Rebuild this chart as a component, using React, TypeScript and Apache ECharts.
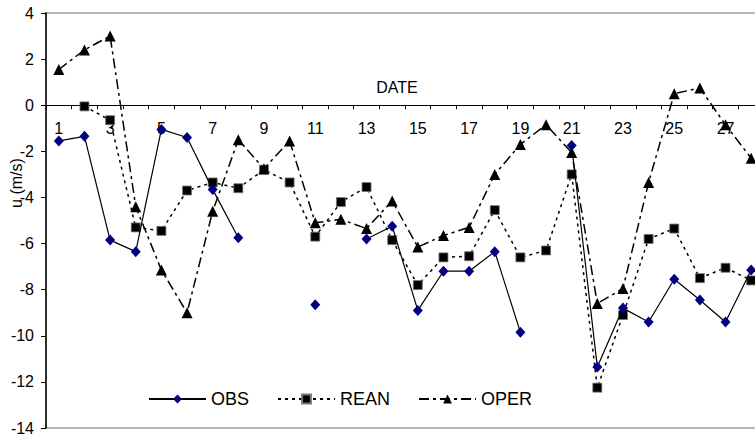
import React, { useEffect, useRef } from "react";
import * as echarts from "echarts";

const days = Array.from({ length: 28 }, (_, i) => String(i + 1));
const obs = [-1.55, -1.35, -5.85, -6.35, -1.05, -1.4, -3.65, -5.75, null, null, -8.65, null, -5.8, -5.25, -8.9, -7.2, -7.2, -6.35, -9.85, null, -1.75, -11.35, -8.8, -9.4, -7.55, -8.45, -9.4, -7.15];
const rean = [null, -0.05, -0.65, -5.3, -5.45, -3.7, -3.35, -3.6, -2.8, -3.35, -5.7, -4.2, -3.55, -5.85, -7.8, -6.6, -6.55, -4.55, -6.6, -6.3, -3.0, -12.25, -9.1, -5.8, -5.35, -7.5, -7.05, -7.6];
const oper = [1.55, 2.4, 3.0, -4.4, -7.15, -9.0, -4.6, -1.5, -2.75, -1.55, -5.1, -4.95, -5.35, -4.15, -6.15, -5.65, -5.3, -3.0, -1.7, -0.85, -2.05, -8.6, -7.95, -3.35, 0.5, 0.75, -0.85, -2.3];

const FONT = "'Liberation Sans', Arial, sans-serif";
const Y_MIN = -14;
const Y_MAX = 4;

export default function App() {
  const ref = useRef<HTMLDivElement>(null);
  useEffect(() => {
    if (!ref.current) return;
    const chart = echarts.init(ref.current, null, { renderer: "svg" });
    const gridTop = 13;
    const gridBottom = 10;
    const gridH = 438 - gridTop - gridBottom;
    const zeroFromBottom = (0 - Y_MIN) / (Y_MAX - Y_MIN) * gridH;
    chart.setOption({
      animation: false,
      backgroundColor: "#fff",
      textStyle: { fontFamily: FONT },
      grid: {
        left: 46,
        top: gridTop,
        right: -9,
        bottom: gridBottom,
        show: true,
        borderColor: "#a0a0a0",
        borderWidth: 1.5,
        containLabel: false,
        outerBoundsMode: "none",
      },
      legend: {
        left: 143,
        top: 385,
        itemWidth: 57,
        itemHeight: 11,
        itemGap: 28,
        textStyle: { fontSize: 18, color: "#000", fontFamily: FONT },
        data: ["OBS", "REAN", "OPER"],
      },
      graphic: [
        {
          type: "text",
          x: 397,
          y: 87,
          style: {
            text: "DATE",
            fontSize: 16,
            fontFamily: FONT,
            fill: "#000",
            textAlign: "center",
            textVerticalAlign: "middle",
          },
        },
        {
          type: "text",
          x: 16,
          y: 183,
          rotation: Math.PI / 2,
          style: {
            text: "u (m/s)",
            fontSize: 16,
            fontFamily: FONT,
            fill: "#000",
            textAlign: "center",
            textVerticalAlign: "middle",
          },
        },
      ],
      xAxis: {
        type: "category",
        data: days,
        boundaryGap: true,
        position: "bottom",
        offset: -zeroFromBottom,
        axisLine: { onZero: false, lineStyle: { color: "#000", width: 1 } },
        axisTick: { show: true, interval: 0, length: 4, lineStyle: { color: "#000" } },
        axisLabel: { interval: 1, fontSize: 16, color: "#000", margin: 15, fontFamily: FONT },
        splitLine: { show: false },
      },
      yAxis: {
        type: "value",
        min: Y_MIN,
        max: Y_MAX,
        interval: 2,
        axisLine: { show: true, lineStyle: { color: "#000", width: 1.5 } },
        axisTick: { show: true, length: 5, lineStyle: { color: "#000" } },
        axisLabel: { fontSize: 16, color: "#000", margin: 12, fontFamily: FONT },
        splitLine: { show: false },
      },
      series: [
        {
          name: "OBS",
          type: "line",
          data: obs,
          z: 5,
          symbol: "diamond",
          symbolSize: [10, 11],
          showAllSymbol: true,
          connectNulls: false,
          itemStyle: { color: "#000080" },
          lineStyle: { color: "#000", width: 1.2, type: "solid" },
        },
        {
          name: "REAN",
          type: "line",
          data: rean,
          z: 3,
          symbol: "rect",
          symbolSize: 9,
          showAllSymbol: true,
          itemStyle: { color: "#000", borderColor: "#777", borderWidth: 0.8 },
          lineStyle: { color: "#000", width: 1.5, type: [3, 4] },
        },
        {
          name: "OPER",
          type: "line",
          data: oper,
          z: 4,
          symbol: "triangle",
          symbolSize: 11,
          showAllSymbol: true,
          itemStyle: { color: "#000" },
          lineStyle: { color: "#000", width: 1.5, type: [10, 4, 3, 4] },
        },
      ],
    });
    return () => chart.dispose();
  }, []);
  return (
    <div
      ref={ref}
      style={{ position: "fixed", left: 0, top: 0, width: 755, height: 438 }}
    />
  );
}
